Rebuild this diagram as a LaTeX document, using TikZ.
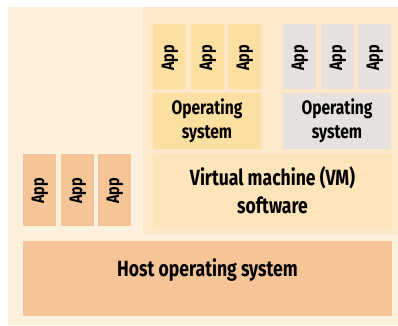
\documentclass[tikz,border=0pt]{standalone}
\usepackage{fontspec}
\setmainfont{Fira Sans}[FakeStretch=0.8]
\definecolor{outerbg}{HTML}{FDF1DD}
\definecolor{vmbg}{HTML}{FDE9CA}
\definecolor{guesty}{HTML}{FDDFA2}
\definecolor{guestg}{HTML}{E5E1DD}
\definecolor{vmsw}{HTML}{FDE4B9}
\definecolor{hostc}{HTML}{F6C597}
\begin{document}
\begin{tikzpicture}[x=1pt,y=-1pt,
  box/.style={draw=none,inner sep=0pt,font=\bfseries,text=black,align=center},
  appbox/.style={box,font=\bfseries\fontsize{18}{20}\selectfont},
  osbox/.style={box,font=\bfseries\fontsize{19.5}{24}\selectfont},
  bigbox/.style={box,font=\bfseries\fontsize{22}{28}\selectfont}]
\useasboundingbox (0,0) rectangle (398,325);
\fill[white] (0,0) rectangle (398,325);
\fill[outerbg] (8,7) rectangle (398,325);
\fill[vmbg] (143,7) rectangle (398,234);
% guest 1
\foreach \x/\n in {153/a1,191/a2,228/a3}{
  \fill[guesty] (\x,24) rectangle ++(33,65);
  \node[appbox,rotate=90] (\n) at (\x+17,58) {App};
}
\fill[guesty] (153,93) rectangle (261,149);
\node[osbox] (os1) at (207,121) {Operating\\system};
% guest 2
\foreach \x/\n in {283/b1,321/b2,358/b3}{
  \fill[guestg] (\x,24) rectangle ++(33,65);
  \node[appbox,rotate=90] (\n) at (\x+17,58) {App};
}
\fill[guestg] (283,93) rectangle (391,149);
\node[osbox] (os2) at (337,121) {Operating\\system};
% VM software
\fill[vmsw] (153,154) rectangle (392,227);
\node[bigbox] (vm) at (272.5,190.5) {Virtual machine (VM)\\software};
% host apps
\foreach \x/\n in {23/h1,61/h2,98/h3}{
  \fill[hostc] (\x,154) rectangle ++(33,72);
  \node[appbox,rotate=90] (\n) at (\x+17,191) {App};
}
% host OS
\fill[hostc] (23,241) rectangle (392,316);
\node[bigbox,anchor=base] (host) at (207.5,276) {Host operating system};
\end{tikzpicture}
\end{document}
